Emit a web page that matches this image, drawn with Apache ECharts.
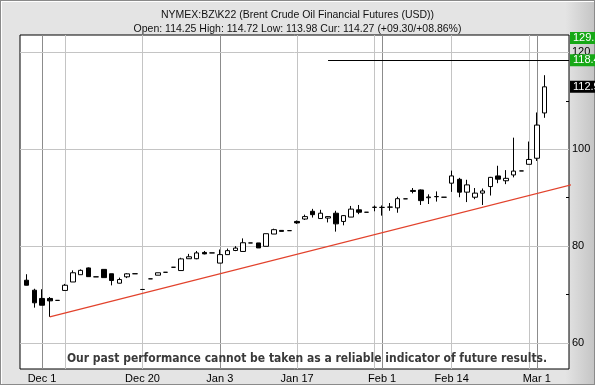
<!DOCTYPE html>
<html>
<head>
<meta charset="utf-8">
<script src="https://cdn.jsdelivr.net/npm/echarts@6/dist/echarts.min.js"></script>
<style>
html,body{margin:0;padding:0;}
body{width:595px;height:385px;overflow:hidden;
background:linear-gradient(to right,#e4e4e4 0%,#e4e4e4 95%,#c4c4c4 100%);}
#frame{position:absolute;left:0;top:0;width:593px;height:383px;border:1px solid #8a8a8a;box-shadow:inset 1px 1px 0 #fff;}
#chart{position:absolute;left:0;top:0;width:595px;height:385px;}
</style>
</head>
<body>
<div id="frame"></div>
<div id="chart"></div>
<script>
const dates = ['Nov 29','Nov 30','Dec 1','Dec 2','Dec 3','Dec 6','Dec 7','Dec 8','Dec 9','Dec 10',
 'Dec 13','Dec 14','Dec 15','Dec 16','Dec 17','Dec 20','Dec 21','Dec 22','Dec 23','Dec 24',
 'Dec 27','Dec 28','Dec 29','Dec 30','Dec 31','Jan 3','Jan 4','Jan 5','Jan 6','Jan 7',
 'Jan 10','Jan 11','Jan 12','Jan 13','Jan 14','Jan 17','Jan 18','Jan 19','Jan 20','Jan 21',
 'Jan 24','Jan 25','Jan 26','Jan 27','Jan 28','Jan 31','Feb 1','Feb 2','Feb 3','Feb 4',
 'Feb 7','Feb 8','Feb 9','Feb 10','Feb 11','Feb 14','Feb 15','Feb 16','Feb 17','Feb 18',
 'Feb 21','Feb 22','Feb 23','Feb 24','Feb 25','Feb 28','Mar 1','Mar 2'];

const open = [72.96,70.9,69.2,69.2,68.8,70.85,72.6,74.1,75.5,73.66,
 75.2,74.3,72.35,73.66,74.3,71.05,73.25,74.0,74.6,75.64,
 74.96,77.4,77.4,78.7,78.6,76.5,78.25,79.1,78.9,80.66,
 80.66,79.96,82.5,83.25,83.2,85.1,85.6,87.2,85.7,85.8,
 86.8,85.1,86.0,87.5,87.0,88.0,88.0,88.05,87.9,89.77,
 91.5,91.6,90.0,90.2,90.1,93.0,93.8,91.15,90.1,90.95,
 92.3,94.5,93.5,94.7,95.53,96.9,98.15,107.5];
const close = [71.93,68.3,67.8,68.7,68.8,71.93,74.5,75.0,73.7,73.66,
 73.5,72.9,73.1,74.28,74.3,71.05,73.25,74.5,74.6,75.64,
 77.37,77.8,78.6,78.4,78.6,78.25,79.07,79.6,80.7,80.66,
 79.63,82.57,83.4,83.05,83.2,84.8,86.1,86.5,86.8,86.1,
 84.6,86.3,87.65,87.0,87.0,88.05,88.0,88.07,89.8,89.77,
 91.3,89.4,90.15,90.25,90.1,94.5,91.15,92.65,90.95,91.4,
 94.2,93.83,94.0,95.5,95.53,97.9,105.0,112.9];
const high = [74.2,71.2,71.1,69.5,68.8,72.2,75.0,75.2,75.6,73.66,
 75.2,74.3,73.5,74.4,74.3,71.05,73.25,74.5,74.6,75.64,
 77.6,78.4,79.0,79.0,78.6,79.3,79.5,80.0,81.6,80.66,
 80.66,82.57,83.6,83.25,83.2,85.3,86.5,87.7,87.5,86.2,
 87.3,86.4,88.3,88.5,87.0,88.4,88.4,88.9,90.2,89.77,
 92.0,91.7,90.7,91.3,90.1,95.6,94.1,93.7,92.0,91.9,
 94.3,96.6,95.7,102.4,95.53,101.6,107.6,115.3];
const low = [71.9,67.3,67.8,65.4,68.8,70.85,72.6,74.1,73.7,73.66,
 73.5,71.9,72.3,73.4,74.3,71.05,73.25,74.0,74.6,75.64,
 74.96,77.4,77.3,78.3,78.6,76.5,78.25,78.97,78.9,80.66,
 79.63,79.96,82.5,83.05,83.2,84.6,85.4,85.9,85.7,84.9,
 83.0,84.3,86.0,86.6,87.0,87.2,86.3,87.3,86.9,89.77,
 90.9,88.5,88.7,89.2,90.1,91.2,90.1,89.1,89.7,88.5,
 90.45,93.0,92.8,94.2,95.53,96.9,97.6,106.5];

const tickLabels = ['Dec 1','Dec 20','Jan 3','Jan 17','Feb 1','Feb 14','Mar 1'];
const monthLines = ['Dec 1','Jan 3','Feb 1','Mar 1'];
const weekLines = ['Dec 6','Dec 20','Jan 3','Jan 17','Jan 31','Feb 14','Feb 28'];
const priceTicks = [60,80,100,120];
const priceMinorTicks = [70,90,110];

// trend line anchors (index along the date axis, price)
const trendX = [3, 73.5];
const trendY = [65.4, 93.9];
// resistance level
const resistLevel = 118.4;
const resistStart = 'Jan 21';
const topLevel = 129.7;
const lastPrice = 112.9;

const xMin = -0.85, xMax = 70.17;
const yMin = 54.63, yMax = 123.6;

const idx = d => dates.indexOf(d);
const candles = dates.map((d,i)=>[i, open[i], close[i], low[i], high[i]]);

const chart = echarts.init(document.getElementById('chart'), null, {renderer:'canvas'});
const axisFont = {fontFamily:'Liberation Sans', fontSize:11, color:'#000'};
const hidden = 'rgba(0,0,0,0)';

const option = {
  animation:false,
  title:[
    {text:'NYMEX:BZ\\K22 (Brent Crude Oil Financial Futures (USD))', left:'center', top:5,
     textStyle:{fontFamily:'Liberation Sans', fontSize:10.5, fontWeight:'normal', color:'#111'}},
    {text:'Open: 114.25 High: 114.72 Low: 113.98 Cur: 114.27 (+09.30/+08.86%)', left:'center', top:19,
     textStyle:{fontFamily:'Liberation Sans', fontSize:10.5, fontWeight:'normal', color:'#111'}},
    {text:'Our past performance cannot be taken as a reliable indicator of future results.', left:302, textAlign:'center', top:348,
     textStyle:{fontFamily:'"Liberation Sans Narrow", "DejaVu Sans Condensed", "Arial Narrow", "Liberation Sans", sans-serif', fontSize:12, fontWeight:'bold', color:'#3a3a3a'}}
  ],
  grid:{left:20, right:26, top:35, bottom:16, show:true, backgroundColor:'#fff', borderColor:'#000', borderWidth:1},
  xAxis:{type:'value', min:xMin, max:xMax,
    axisLine:{show:false}, axisTick:{show:false}, splitLine:{show:false},
    axisLabel:{...axisFont, fontSize:11, margin:4, customValues: tickLabels.map(idx),
      formatter: v => dates[Math.round(v)] || ''}
  },
  yAxis:[
    {type:'value', position:'right', min:yMin, max:yMax, scale:true,
     axisLine:{show:false}, splitLine:{show:false},
     axisTick:{show:true, length:4, customValues: priceTicks, lineStyle:{color:'#000'}},
     axisLabel:{...axisFont, margin:3, customValues: priceTicks}},
    {type:'value', position:'right', min:yMin, max:yMax, scale:true,
     axisLine:{show:false}, splitLine:{show:false}, axisLabel:{show:false},
     axisTick:{show:true, inside:true, length:3, customValues: priceMinorTicks, lineStyle:{color:'#000'}}}
  ],
  series:[
    {type:'candlestick', data:candles, encode:{x:0, y:[1,2,3,4]}, barWidth:5, z:2,
     itemStyle:{color:'#fff', color0:'#000', borderColor:'#000', borderColor0:'#000', borderWidth:1},
     markLine:{silent:true, symbol:'none', z:1, animation:false, label:{show:false},
       data:[
         ...weekLines.map(d=>({xAxis:idx(d), lineStyle:{color:'#c4c4c4', width:1, type:'solid'}})),
         ...monthLines.map(d=>({xAxis:idx(d), lineStyle:{color:'#8c8c8c', width:1, type:'solid'}})),
         ...priceTicks.map(v=>({yAxis:v, lineStyle:{color:'#c4c4c4', width:1, type:'solid'}}))
       ]}
    },
    {type:'line', data: trendX.map((x,i)=>[x, trendY[i]]), clip:false, symbol:'none', z:3,
     lineStyle:{color:'#e2422c', width:1.3},
     markLine:{silent:true, symbol:'none', z:5, animation:false,
       label:{show:true, position:'end', distance:1, color:'#fff', fontFamily:'Liberation Sans', fontSize:11,
              padding:[1,3,0,3], align:'left'},
       data:[
         [{coord:[idx(resistStart), resistLevel], lineStyle:{color:'#000', width:1, type:'solid'}},
          {coord:[xMax, resistLevel], label:{formatter:String(resistLevel), backgroundColor:'#16a816'}}],
         [{coord:[xMax - 0.01, yMax - 0.6], lineStyle:{color:hidden, width:1}},
          {coord:[xMax, yMax - 0.6], label:{formatter:String(topLevel), backgroundColor:'#16a816'}}],
         [{coord:[xMax - 0.01, lastPrice], lineStyle:{color:hidden, width:1}},
          {coord:[xMax, lastPrice], label:{formatter:String(lastPrice), backgroundColor:'#000'}}]
       ]}
    }
  ]
};
chart.setOption(option);
</script>
</body>
</html>
